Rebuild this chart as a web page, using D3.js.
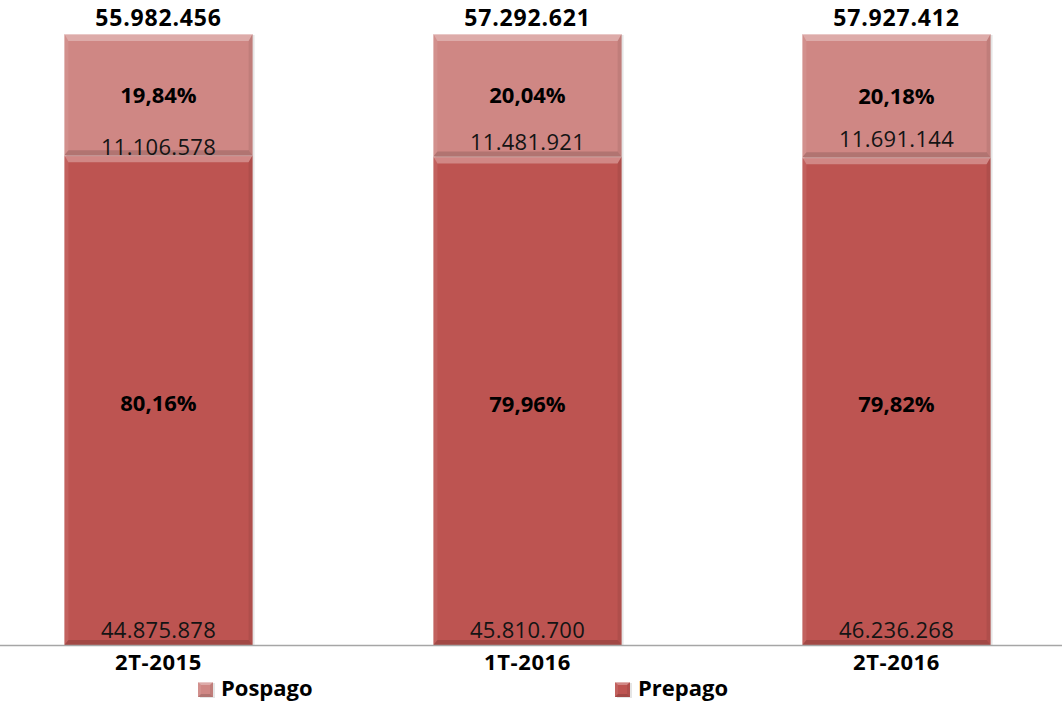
<!DOCTYPE html>
<html>
<head>
<meta charset="utf-8">
<script src="https://cdn.jsdelivr.net/npm/d3@7"></script>
<style>
  html, body { margin: 0; padding: 0; background: #fff; }
  svg { display: block; font-family: "Open Sans", "Noto Sans", sans-serif; }
</style>
</head>
<body>
<svg id="chart" width="1062" height="705"></svg>
<script>
// Mobile lines by plan type, per quarter
const periods = ["2T-2015", "1T-2016", "2T-2016"];
const prepago = [44875878, 45810700, 46236268];
const pospago = [11106578, 11481921, 11691144];
const totals = [55982456, 57292621, 57927412];
const prepagoPct = ["80,16%", "79,96%", "79,82%"];
const pospagoPct = ["19,84%", "20,04%", "20,18%"];
const seriesNames = ["Pospago", "Prepago"];

// vertical nudge for the pospago count labels
const posLabelNudge = [0, -6, -10];

const W = 1062, H = 705;
const svg = d3.select("#chart");

const colors = { Prepago: "#bd5451", Pospago: "#cf8784" };
const fmt = v => d3.format(",")(v).replace(/,/g, ".");

const x = d3.scaleBand()
  .domain(periods)
  .range([-26, 1081])
  .paddingInner(0.49)
  .paddingOuter(0.245);

const y = d3.scaleLinear().domain([0, 1]).range([645, 34]);

const rows = periods.map((p, i) => ({
  period: p,
  Prepago: prepago[i] / totals[i],
  Pospago: pospago[i] / totals[i]
}));
const stack = d3.stack().keys(["Prepago", "Pospago"])(rows);

// bevelled box: base fill plus light/dark edge facets
function bevelBox(g, x0, y0, w, h, fill, bt, bs, bb) {
  g.append("rect").attr("x", x0 + 2).attr("y", y0 + 1).attr("width", w).attr("height", h)
    .attr("fill", "#000").attr("opacity", 0.1);
  g.append("rect").attr("x", x0).attr("y", y0).attr("width", w).attr("height", h).attr("fill", fill);
  const x1 = x0 + w, y1 = y0 + h;
  const poly = (pts, c, o) => g.append("polygon")
    .attr("points", pts.map(p => p.join(",")).join(" "))
    .attr("fill", c).attr("opacity", o);
  // top
  poly([[x0, y0], [x1, y0], [x1 - bs, y0 + bt], [x0 + bs, y0 + bt]], "#fff", 0.3);
  // left
  poly([[x0, y0], [x0 + bs, y0 + bt], [x0 + bs, y1 - bb], [x0, y1]], "#fff", 0.08);
  // right
  poly([[x1, y0], [x1 - bs, y0 + bt], [x1 - bs, y1 - bb], [x1, y1]], "#000", 0.07);
  // bottom
  poly([[x0, y1], [x0 + bs, y1 - bb], [x1 - bs, y1 - bb], [x1, y1]], "#000", 0.14);
  g.append("line").attr("x1", x0).attr("x2", x1).attr("y1", y0 + 0.5).attr("y2", y0 + 0.5)
    .attr("stroke", "#fff").attr("stroke-opacity", 0.35);
}

const bars = svg.append("g");
stack.forEach(layer => {
  layer.forEach(d => {
    const x0 = x(d.data.period);
    const top = y(d[1]), bot = y(d[0]);
    bevelBox(bars, x0, top, x.bandwidth(), bot - top, colors[layer.key], 7, 4, 5);
  });
});

// axis baseline
svg.append("line").attr("x1", 0).attr("x2", W).attr("y1", 645.5).attr("y2", 645.5)
  .attr("stroke", "#a6a6a6").attr("stroke-width", 1.5);

const labels = svg.append("g").attr("text-anchor", "middle");

periods.forEach((p, i) => {
  const cx = x(p) + x.bandwidth() / 2;
  const yPre0 = y(0), yPre1 = y(prepago[i] / totals[i]), yPos1 = y(1);

  // total above bar
  labels.append("text").attr("x", cx).attr("y", 26)
    .attr("font-size", 23).attr("font-weight", 700).attr("letter-spacing", 0.8)
    .attr("fill", "#000").text(fmt(totals[i]));

  // percentages, centred in each segment
  labels.append("text").attr("x", cx).attr("y", (yPos1 + yPre1) / 2 + 8)
    .attr("font-size", 22).attr("font-weight", 700).attr("fill", "#000")
    .text(pospagoPct[i]);
  labels.append("text").attr("x", cx).attr("y", (yPre1 + yPre0) / 2 + 11)
    .attr("font-size", 22).attr("font-weight", 700).attr("fill", "#000")
    .text(prepagoPct[i]);

  // counts at the base of each segment
  labels.append("text").attr("x", cx).attr("y", yPre1 + posLabelNudge[i])
    .attr("font-size", 22).attr("fill", "#141414").attr("letter-spacing", 0.3)
    .text(fmt(pospago[i]));
  labels.append("text").attr("x", cx).attr("y", yPre0 - 7)
    .attr("font-size", 22).attr("fill", "#141414").attr("letter-spacing", 0.3)
    .text(fmt(prepago[i]));

  // category label
  labels.append("text").attr("x", cx).attr("y", 670)
    .attr("font-size", 22).attr("font-weight", 700).attr("letter-spacing", 0.6)
    .attr("fill", "#000").text(p);
});

// legend
const legendX = { Pospago: 198, Prepago: 615 };
const legend = svg.append("g");
seriesNames.forEach(name => {
  const lx = legendX[name];
  bevelBox(legend, lx, 682, 15, 15, colors[name], 3, 3, 3);
  legend.append("text").attr("x", lx + 23).attr("y", 696)
    .attr("font-size", 22).attr("font-weight", 700).attr("fill", "#000")
    .text(name);
});
</script>
</body>
</html>
